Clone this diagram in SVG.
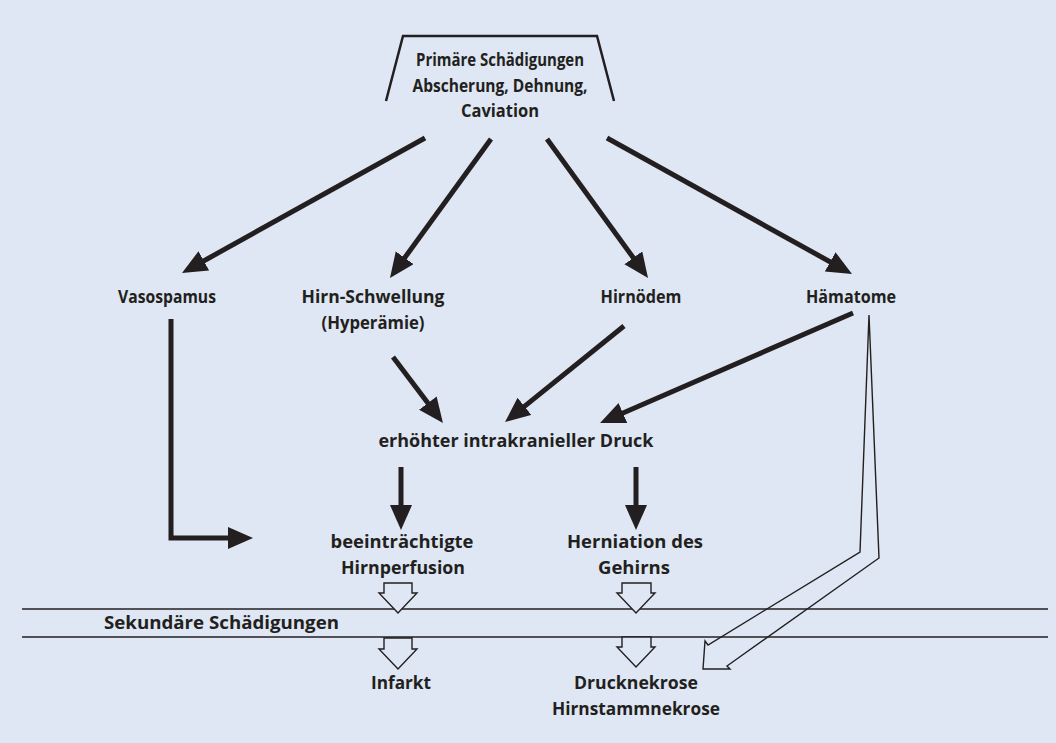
<svg xmlns="http://www.w3.org/2000/svg" width="1056" height="743" viewBox="0 0 1056 743">
<style>
text{font-family:"Open Sans","Liberation Sans",sans-serif;font-weight:700;font-size:18.5px;fill:#231f20;text-anchor:middle}
.a{stroke:#231f20;stroke-width:5;fill:none;marker-end:url(#h)}
.thin{stroke:#231f20;stroke-width:1.4;fill:none}
.ho{stroke:#231f20;stroke-width:1.4;fill:#dee7f3}
</style>
<defs>
<marker id="h" markerUnits="userSpaceOnUse" markerWidth="26" markerHeight="24" refX="10" refY="11" orient="auto">
<path d="M0,0 L25,11 L0,22 z" fill="#231f20"/>
</marker>
</defs>
<rect x="0" y="0" width="1056" height="743" fill="#dee7f3"/>
<g id="separator">
<line class="thin" x1="22" y1="609" x2="1048" y2="609"/>
<line class="thin" x1="22" y1="637" x2="1048" y2="637"/>
<text x="104" y="629" style="text-anchor:start" textLength="235" lengthAdjust="spacingAndGlyphs">Sekundäre Schädigungen</text>
</g>
<g id="primary">
<polyline points="386,101 403,36 597,36 614,101" fill="none" stroke="#231f20" stroke-width="2.5"/>
<text x="500" y="66" textLength="168" lengthAdjust="spacingAndGlyphs">Primäre Schädigungen</text>
<text x="500" y="92" textLength="175" lengthAdjust="spacingAndGlyphs">Abscherung, Dehnung,</text>
<text x="500" y="117" textLength="78" lengthAdjust="spacingAndGlyphs">Caviation</text>
</g>
<g id="vasospamus"><text x="167" y="303" textLength="98" lengthAdjust="spacingAndGlyphs">Vasospamus</text></g>
<g id="schwellung">
<text x="373" y="303" textLength="143" lengthAdjust="spacingAndGlyphs">Hirn-Schwellung</text>
<text x="373" y="329" textLength="103" lengthAdjust="spacingAndGlyphs">(Hyperämie)</text>
</g>
<g id="oedem"><text x="641" y="303" textLength="81" lengthAdjust="spacingAndGlyphs">Hirnödem</text></g>
<g id="haematome"><text x="851" y="303" textLength="90" lengthAdjust="spacingAndGlyphs">Hämatome</text></g>
<g id="druck"><text x="516" y="447" textLength="275" lengthAdjust="spacingAndGlyphs">erhöhter intrakranieller Druck</text></g>
<g id="perfusion">
<text x="402" y="548" textLength="143" lengthAdjust="spacingAndGlyphs">beeinträchtigte</text>
<text x="403" y="574" textLength="124" lengthAdjust="spacingAndGlyphs">Hirnperfusion</text>
</g>
<g id="herniation">
<text x="635" y="548" textLength="136" lengthAdjust="spacingAndGlyphs">Herniation des</text>
<text x="634" y="574" textLength="72" lengthAdjust="spacingAndGlyphs">Gehirns</text>
</g>
<g id="infarkt"><text x="401" y="689" textLength="60" lengthAdjust="spacingAndGlyphs">Infarkt</text></g>
<g id="nekrose">
<text x="636" y="689" textLength="124" lengthAdjust="spacingAndGlyphs">Drucknekrose</text>
<text x="636" y="715" textLength="168" lengthAdjust="spacingAndGlyphs">Hirnstammnekrose</text>
</g>
<g id="connectors">
<line class="a" x1="425" y1="138" x2="195.1" y2="265.7"/>
<line class="a" x1="491" y1="139" x2="398.8" y2="265.9"/>
<line class="a" x1="547" y1="139" x2="639.2" y2="265.9"/>
<line class="a" x1="607" y1="138" x2="838.9" y2="266.7"/>
<line class="a" x1="393" y1="357" x2="433.9" y2="411"/>
<line class="a" x1="624" y1="326" x2="516.7" y2="412.6"/>
<line class="a" x1="853" y1="313" x2="613.8" y2="417"/>
<line class="a" x1="401" y1="467" x2="401" y2="515"/>
<line class="a" x1="636" y1="467" x2="636" y2="515"/>
<polyline class="a" points="171,319 171,538 238,538"/>
<polygon class="ho" points="384,583 412,583 412,593 417,593 398,613 379,593 384,593"/>
<polygon class="ho" points="622,583 651,583 651,593 655,593 636,613 617,593 622,593"/>
<polygon class="ho" points="384,638 412,638 412,649 417,649 398,669 379,649 384,649"/>
<polygon class="ho" points="622,637 651,637 651,647 655,647 636,667 617,647 622,647"/>
<polygon class="thin" points="869,315 860,552 708,645 705,641 703,669 730,669 727,666 879,558"/>
</g>
</svg>
